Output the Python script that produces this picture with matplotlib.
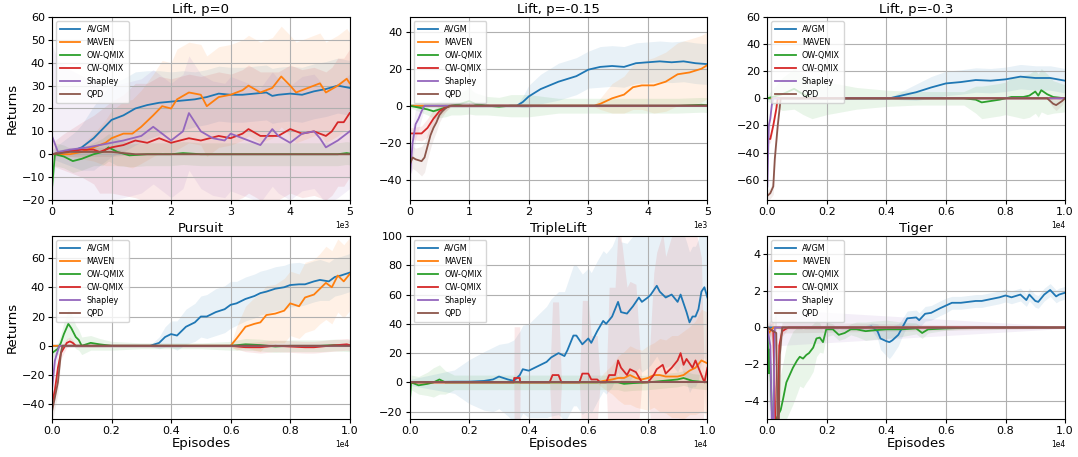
import matplotlib
matplotlib.use("Agg")
import matplotlib.pyplot as plt
import numpy as np

labels = ["AVGM", "MAVEN", "OW-QMIX", "CW-QMIX", "Shapley", "QPD"]
colors = ["#1f77b4", "#ff7f0e", "#2ca02c", "#d62728", "#9467bd", "#8c564b"]
titles = ["Lift, p=0", "Lift, p=-0.15", "Lift, p=-0.3", "Pursuit", "TripleLift", "Tiger"]
xmax = [5000, 5000, 10000, 10000, 10000, 10000]
ylims = [(-20, 60), (-51, 48), (-75, 60), (-50, 75), (-25, 100), (-5, 5)]
yticks = [[-20, -10, 0, 10, 20, 30, 40, 50, 60], [-40, -20, 0, 20, 40],
          [-60, -40, -20, 0, 20, 40, 60], [-40, -20, 0, 20, 40, 60],
          [-20, 0, 20, 40, 60, 80, 100], [-4, -2, 0, 2, 4]]

# ---------------- Lift, p=0 ----------------
l0_avgm_x = [0, 200, 400, 500, 600, 700, 850, 1000, 1200, 1400, 1600, 1800, 2000, 2200, 2400, 2600, 2800, 3000, 3200, 3400, 3600, 3700, 3800, 4000, 4200, 4400, 4600, 4800, 4900, 5000]
l0_avgm_y = [0, 1, 2, 3, 5, 7, 11, 15, 17, 20, 21.5, 22.5, 23, 23.5, 24, 25, 26.5, 26, 26, 26.5, 27, 25.5, 26, 26.5, 26, 27.5, 28.5, 30, 29.5, 29]
l0_avgm_s = [2, 5, 8, 10, 12, 14, 15, 16, 16, 16, 15, 14, 13, 13, 12, 12, 12, 12, 12, 12, 12, 12, 12, 12, 12, 12, 12, 12, 12, 12]
l0_maven_x = [0, 300, 500, 700, 900, 1000, 1200, 1350, 1500, 1700, 1850, 2000, 2100, 2300, 2500, 2600, 2800, 3000, 3200, 3300, 3500, 3700, 3850, 4000, 4100, 4300, 4500, 4600, 4800, 4950, 5000]
l0_maven_y = [0, 0, 1, 3, 5, 7, 9, 9, 12, 17, 21, 20, 24, 27, 26, 21, 25, 26, 28, 30, 27, 29, 34, 30, 27, 29, 31, 27, 30, 33, 31]
l0_maven_s = [0, 1, 3, 6, 10, 12, 14, 15, 16, 18, 20, 20, 22, 22, 22, 22, 22, 22, 22, 22, 22, 22, 22, 22, 22, 22, 22, 22, 22, 22, 22]
l0_ow_x = [0, 50, 200, 350, 500, 700, 850, 950, 1100, 1300, 1600, 2000, 2200, 2500, 3000, 3500, 4000, 4500, 4800, 4950, 5000]
l0_ow_y = [-15, 0, -1, -3, -2, 0, 1, 3, 1, -0.5, 0, 0, 0.5, 0, 0, 0, 0, 0, 0, 0.5, 0.3]
l0_ow_s = [5, 5, 5, 5, 5, 5, 6, 6, 6, 5, 5, 5, 5, 5, 5, 5, 5, 5, 5, 5, 5]
l0_cw_x = [0, 200, 500, 700, 800, 1000, 1200, 1400, 1600, 1800, 2000, 2300, 2500, 2800, 3000, 3200, 3300, 3500, 3800, 4000, 4200, 4400, 4600, 4700, 4800, 4900, 5000]
l0_cw_y = [0, 1, 2, 2, 1, 3, 4, 6, 5, 7, 5, 7, 6, 8, 7, 9, 11, 8, 8, 11, 9, 10, 8, 10, 14, 14, 18]
l0_cw_s = [5, 8, 12, 15, 18, 20, 22, 25, 26, 27, 28, 28, 28, 28, 28, 28, 28, 28, 28, 28, 28, 28, 28, 28, 28, 28, 28]
l0_sh_x = [0, 100, 300, 600, 800, 1000, 1200, 1500, 1700, 1900, 2000, 2200, 2300, 2500, 2700, 2900, 3000, 3300, 3500, 3700, 3800, 4000, 4200, 4400, 4500, 4600, 4800, 5000]
l0_sh_y = [8, 1, 2, 3, 4, 5, 6, 8, 12, 8, 6, 10, 18, 10, 7, 6, 9, 6, 4, 11, 8, 5, 9, 10, 7, 3, 6, 10]
l0_sh_s = [40, 40, 35, 30, 28, 25, 25, 25, 25, 25, 25, 25, 25, 25, 25, 25, 25, 25, 25, 25, 25, 25, 25, 25, 25, 25, 25, 25]
l0_qpd_x = [0, 300, 500, 800, 1000, 1200, 1400, 5000]
l0_qpd_y = [0, 1, 1, 1, 1, 0.5, 0, 0]
l0_qpd_s = [1, 2, 2, 2, 2, 1, 0.5, 0.5]

# ---------------- Lift, p=-0.15 ----------------
l15_avgm_x = [0, 1800, 1900, 2000, 2200, 2500, 2800, 3000, 3200, 3400, 3600, 3800, 4000, 4200, 4400, 4600, 4800, 5000]
l15_avgm_y = [0, 0, 2, 5, 9, 13, 16, 19.5, 21, 21.5, 21, 23, 23.5, 24, 23.5, 24, 23, 22.5]
l15_avgm_s = [0.5, 0.5, 3, 6, 8, 10, 10, 10, 11, 11, 11, 11, 11, 11, 11, 11, 11, 11]
l15_maven_x = [0, 3100, 3200, 3400, 3600, 3750, 3900, 4100, 4300, 4500, 4700, 4900, 5000]
l15_maven_y = [0, 0, 1, 4, 6, 10, 11, 11, 13, 17, 18, 20, 22]
l15_maven_s = [0.3, 0.5, 3, 8, 10, 12, 13, 15, 16, 17, 18, 18, 18]
l15_ow_x = [0, 300, 400, 600, 700, 850, 1000, 1100, 1300, 1500, 1700, 2000, 2500, 3000, 3500, 4000, 4500, 4900, 5000]
l15_ow_y = [0, -2, -3, -1, 0, 1, 2.5, 1, 0, -0.5, 0, 0, 0, 0, 0, 0, 0, 0.5, 0.3]
l15_ow_s = [1, 3, 4, 5, 5, 6, 7, 6, 5, 5, 6, 6, 4, 4, 4, 4, 4, 4, 4]
l15_cw_x = [0, 200, 300, 400, 500, 600, 700, 5000]
l15_cw_y = [-15, -15, -12, -7, -3, -1, 0, 0]
l15_cw_s = [3, 4, 5, 5, 3, 2, 0.5, 0.3]
l15_sh_x = [0, 50, 100, 150, 200, 250, 5000]
l15_sh_y = [-40, -20, -10, -7, -3, 0, 0]
l15_sh_s = [10, 10, 8, 6, 4, 1, 0.3]
l15_qpd_x = [0, 50, 100, 200, 250, 300, 350, 400, 450, 500, 550, 600, 670, 5000]
l15_qpd_y = [-32, -28, -29, -30, -28, -22, -16, -12, -9, -5, -3, -1.5, 0, 0]
l15_qpd_s = [6, 6, 6, 8, 8, 7, 7, 6, 5, 4, 3, 2, 1, 0.3]

# ---------------- Lift, p=-0.3 ----------------
l30_avgm_x = [0, 4100, 4500, 5000, 5500, 6000, 6500, 7000, 7500, 8000, 8500, 9000, 9500, 10000]
l30_avgm_y = [0, 0, 2, 4.5, 8, 11, 12, 13.5, 13, 14, 16, 15, 15, 13]
l30_avgm_s = [0.5, 0.5, 3, 6, 8, 9, 9, 9, 9, 9, 9, 9, 9, 9]
l30_maven_x = [0, 10000]
l30_maven_y = [0, 0]
l30_maven_s = [0.2, 0.2]
l30_ow_x = [0, 500, 900, 1200, 1500, 2000, 3000, 4000, 5000, 6000, 6600, 7000, 7200, 7500, 7800, 8000, 8200, 8600, 8800, 9000, 9100, 9200, 9400, 9600, 10000]
l30_ow_y = [0, 3, 7, 3, 0, 0, 0, 0, 0, 0, 0, -1, -3, -2, -1, 0, 1, 1, 2, 5, 2, 6, 3, 1, 0]
l30_ow_s = [2, 12, 15, 15, 15, 12, 8, 6, 5, 5, 5, 10, 12, 12, 12, 12, 14, 16, 16, 16, 16, 16, 15, 12, 10]
l30_cw_x = [0, 100, 200, 300, 350, 10000]
l30_cw_y = [-30, -30, -20, -8, 0, 0]
l30_cw_s = [3, 3, 3, 2, 0.5, 0.3]
l30_sh_x = [0, 50, 100, 150, 200, 10000]
l30_sh_y = [-65, -20, -15, -5, 0, 0]
l30_sh_s = [8, 6, 4, 2, 0.5, 0.3]
l30_qpd_x = [0, 100, 200, 250, 350, 450, 9400, 9600, 9700, 9900, 10000]
l30_qpd_y = [-72, -70, -65, -45, -20, 0, 0, -4, -5, -2, 0]
l30_qpd_s = [4, 4, 6, 8, 6, 1, 0.5, 3, 4, 3, 1]

# ---------------- Pursuit ----------------
pu_avgm_x = [0, 3300, 3600, 3800, 4000, 4200, 4500, 4800, 5000, 5200, 5500, 5800, 6000, 6200, 6500, 6800, 7000, 7200, 7500, 7800, 8000, 8300, 8500, 8800, 9000, 9300, 9500, 9700, 10000]
pu_avgm_y = [0, 0, 2, 6, 8, 7, 13, 16, 20, 20, 23, 25, 28, 29, 32, 34, 36, 37, 39, 40, 41.5, 42, 42, 44, 45, 44, 47, 48, 50]
pu_avgm_s = [0.5, 0.5, 4, 7, 9, 10, 12, 13, 14, 15, 16, 16, 16, 15, 15, 15, 15, 15, 15, 15, 15, 15, 14, 14, 14, 13, 13, 13, 13]
pu_maven_x = [0, 6000, 6200, 6500, 6800, 7000, 7200, 7500, 7800, 8000, 8300, 8500, 8800, 9000, 9200, 9400, 9600, 9800, 10000]
pu_maven_y = [0, 0, 5, 13, 15, 16, 21, 22, 24, 29, 27, 33, 35, 39, 43, 40, 48, 44, 49]
pu_maven_s = [0.5, 0.5, 8, 14, 18, 20, 20, 20, 22, 22, 22, 24, 24, 24, 25, 25, 25, 25, 25]
pu_ow_x = [0, 200, 300, 400, 550, 650, 800, 900, 1000, 1300, 1600, 2000, 3000, 4000, 5000, 6000, 6500, 7000, 7500, 8000, 9000, 9500, 10000]
pu_ow_y = [-5, -2, 2, 8, 15, 12, 6, 4, 0, 2, 1, 0, 0, 0, 0, 0, 1, 0.5, -0.5, 0, 0, 0.5, 0]
pu_ow_s = [3, 4, 6, 8, 10, 10, 8, 7, 6, 5, 4, 3, 2, 2, 2, 3, 4, 4, 4, 4, 4, 4, 4]
pu_cw_x = [0, 100, 200, 300, 500, 600, 700, 800, 6000, 6500, 7000, 7500, 8500, 8800, 9300, 9900, 10000]
pu_cw_y = [-40, -30, -15, -5, 2, 3, 2, 0, 0, -1, -1, 0, -1, -1, 0, 1, 0.5]
pu_cw_s = [5, 6, 6, 4, 3, 3, 2, 1, 1, 3, 4, 4, 4, 4, 4, 4, 4]
pu_sh_x = [0, 100, 200, 250, 10000]
pu_sh_y = [-30, -10, -3, 0, 0]
pu_sh_s = [15, 8, 4, 1, 0.3]
pu_qpd_x = [0, 100, 200, 300, 350, 10000]
pu_qpd_y = [-45, -35, -25, -5, 0, 0]
pu_qpd_s = [8, 8, 8, 4, 1, 0.3]

# ---------------- TripleLift ----------------
tl_avgm_x = [0, 1500, 2000, 2500, 2800, 3000, 3300, 3500, 3700, 3800, 4000, 4200, 4400, 4600, 4750, 5000, 5200, 5300, 5500, 5600, 5800, 6000, 6100, 6300, 6500, 6600, 6800, 7000, 7100, 7300, 7500, 7700, 7800, 8000, 8100, 8300, 8400, 8600, 8800, 9000, 9100, 9300, 9400, 9500, 9600, 9700, 9800, 9900, 10000]
tl_avgm_y = [0, 0.5, 0.5, 1, 2, 4, 2, 1, 5, 9, 8, 10, 12, 14, 17, 20, 18, 22, 32, 32, 26, 30, 27, 35, 42, 40, 45, 55, 48, 47, 52, 58, 55, 58, 60, 66, 62, 58, 60, 55, 60, 48, 41, 45, 45, 50, 62, 65, 58]
tl_avgm_s = [2, 8, 15, 20, 22, 22, 25, 28, 30, 30, 32, 34, 36, 38, 40, 42, 44, 46, 48, 48, 48, 48, 48, 48, 48, 48, 48, 48, 48, 48, 48, 48, 48, 48, 48, 48, 48, 48, 48, 48, 48, 48, 48, 48, 48, 48, 48, 48, 48]
tl_maven_x = [0, 6300, 6500, 6800, 7000, 7200, 7400, 7600, 7800, 8000, 8200, 8400, 8600, 8800, 9000, 9200, 9400, 9600, 9800, 10000]
tl_maven_y = [0, 0, 1, 2, 3, 3, 5, 3, 2, 3, 5, 5, 4, 4, 4, 5, 8, 10, 15, 13]
tl_maven_s = [0.3, 0.5, 5, 10, 15, 18, 20, 20, 20, 22, 22, 25, 25, 28, 28, 30, 30, 32, 35, 35]
tl_ow_x = [0, 50, 300, 600, 800, 1000, 1200, 1500, 3000, 5000, 7000, 7200, 7500, 8000, 8500, 9000, 9200, 9500, 10000]
tl_ow_y = [-15, 0, -2, -1, 0, 2, 0, 0, 0, 0, 0, -1, -0.5, 0, 1, 2, 3, 1, 0]
tl_ow_s = [3, 5, 6, 8, 10, 10, 8, 5, 5, 5, 5, 5, 5, 5, 5, 5, 5, 5, 5]
tl_cw_x = [0, 3500, 3510, 3600, 3700, 3710, 4700, 4800, 5000, 5100, 5700, 5800, 6000, 6100, 6300, 6400, 6600, 6700, 6900, 7000, 7100, 7300, 7400, 7600, 7800, 8000, 8200, 8300, 8500, 8600, 8800, 9000, 9100, 9200, 9300, 9500, 9600, 9800, 9900, 10000]
tl_cw_y = [0, 0, 3, 3, 3, 0, 0, 5, 5, 0, 0, 6, 6, 2, 2, 0, 0, 5, 5, 15, 10, 5, 9, 7, 0, 0, 5, 9, 12, 6, 10, 15, 20, 12, 16, 10, 15, 5, 0, 10]
tl_cw_s = [0, 0, 35, 35, 35, 0, 0, 50, 50, 0, 0, 50, 50, 30, 30, 0, 0, 60, 60, 90, 90, 60, 60, 60, 0, 0, 70, 80, 90, 80, 90, 95, 95, 90, 90, 90, 90, 80, 0, 80]
tl_sh_x = [0, 10000]
tl_sh_y = [0, 0]
tl_sh_s = [0.2, 0.2]
tl_qpd_x = [0, 10000]
tl_qpd_y = [0, 0]
tl_qpd_s = [0.2, 0.2]

# ---------------- Tiger ----------------
ti_avgm_x = [0, 3300, 3500, 3700, 3800, 4000, 4100, 4200, 4400, 4500, 4600, 4700, 5000, 5100, 5300, 5500, 5800, 6000, 6200, 6500, 7000, 7200, 7500, 7800, 8000, 8200, 8500, 8700, 8800, 9000, 9100, 9300, 9500, 9700, 9800, 10000]
ti_avgm_y = [0, 0, 0.05, -0.2, -0.6, -0.75, -0.8, -0.7, -0.4, -0.1, 0.2, 0.5, 0.55, 0.4, 0.75, 0.8, 1.05, 1.2, 1.35, 1.35, 1.45, 1.45, 1.55, 1.65, 1.75, 1.65, 1.8, 1.5, 1.8, 1.45, 1.4, 1.8, 2.05, 1.7, 1.8, 1.9]
ti_avgm_s = [0.05, 0.1, 0.2, 0.4, 0.6, 0.8, 0.9, 0.8, 0.6, 0.5, 0.45, 0.4, 0.4, 0.4, 0.4, 0.4, 0.4, 0.4, 0.35, 0.35, 0.35, 0.35, 0.35, 0.35, 0.35, 0.35, 0.35, 0.35, 0.35, 0.35, 0.35, 0.35, 0.35, 0.35, 0.35, 0.35]
ti_maven_x = [0, 50, 200, 10000]
ti_maven_y = [0, -0.3, 0, 0]
ti_maven_s = [0.2, 0.3, 0.1, 0.05]
ti_ow_x = [0, 50, 80, 120, 150, 200, 300, 450, 530, 640, 750, 860, 1000, 1090, 1200, 1310, 1400, 1540, 1650, 1760, 1870, 1980, 2200, 2400, 2600, 2800, 3000, 3300, 3600, 4000, 4500, 5000, 5200, 5400, 6000, 7000, 10000]
ti_ow_y = [0, -2.5, -1.2, -3, -4.5, -5.5, -5, -4.5, -3.9, -3, -2.6, -2.2, -1.8, -1.6, -1.7, -1.5, -1.4, -1.1, -0.6, -0.55, -0.8, -0.1, -0.1, -0.4, -0.3, -0.1, -0.1, -0.2, -0.15, -0.1, -0.1, -0.05, -0.3, -0.1, -0.05, 0, 0]
ti_ow_s = [0.5, 2, 2, 2, 2, 2, 2, 2, 2, 2, 2, 2, 1.8, 1.6, 1.6, 1.5, 1.4, 1.3, 1.0, 0.8, 0.6, 0.4, 0.3, 0.3, 0.3, 0.3, 0.4, 0.5, 0.5, 0.5, 0.4, 0.3, 0.3, 0.2, 0.1, 0.05, 0.05]
ti_cw_x = [0, 200, 280, 350, 400, 500, 700, 10000]
ti_cw_y = [0, -0.2, -6, -6, -1, -0.2, 0, 0]
ti_cw_s = [0.1, 0.5, 2, 2, 1, 0.3, 0.05, 0.05]
ti_sh_x = [0, 100, 150, 200, 250, 10000]
ti_sh_y = [0, -1, -5, -6, 0, 0]
ti_sh_s = [3, 5, 5, 5, 1, 0.05]
ti_qpd_x = [0, 300, 350, 380, 420, 500, 10000]
ti_qpd_y = [0, -0.3, -6, -6, -1.5, 0, 0]
ti_qpd_s = [0.2, 1, 2, 2, 1, 0.3, 0.05]

panels = [
    [(l0_avgm_x, l0_avgm_y, l0_avgm_s), (l0_maven_x, l0_maven_y, l0_maven_s), (l0_ow_x, l0_ow_y, l0_ow_s),
     (l0_cw_x, l0_cw_y, l0_cw_s), (l0_sh_x, l0_sh_y, l0_sh_s), (l0_qpd_x, l0_qpd_y, l0_qpd_s)],
    [(l15_avgm_x, l15_avgm_y, l15_avgm_s), (l15_maven_x, l15_maven_y, l15_maven_s), (l15_ow_x, l15_ow_y, l15_ow_s),
     (l15_cw_x, l15_cw_y, l15_cw_s), (l15_sh_x, l15_sh_y, l15_sh_s), (l15_qpd_x, l15_qpd_y, l15_qpd_s)],
    [(l30_avgm_x, l30_avgm_y, l30_avgm_s), (l30_maven_x, l30_maven_y, l30_maven_s), (l30_ow_x, l30_ow_y, l30_ow_s),
     (l30_cw_x, l30_cw_y, l30_cw_s), (l30_sh_x, l30_sh_y, l30_sh_s), (l30_qpd_x, l30_qpd_y, l30_qpd_s)],
    [(pu_avgm_x, pu_avgm_y, pu_avgm_s), (pu_maven_x, pu_maven_y, pu_maven_s), (pu_ow_x, pu_ow_y, pu_ow_s),
     (pu_cw_x, pu_cw_y, pu_cw_s), (pu_sh_x, pu_sh_y, pu_sh_s), (pu_qpd_x, pu_qpd_y, pu_qpd_s)],
    [(tl_avgm_x, tl_avgm_y, tl_avgm_s), (tl_maven_x, tl_maven_y, tl_maven_s), (tl_ow_x, tl_ow_y, tl_ow_s),
     (tl_cw_x, tl_cw_y, tl_cw_s), (tl_sh_x, tl_sh_y, tl_sh_s), (tl_qpd_x, tl_qpd_y, tl_qpd_s)],
    [(ti_avgm_x, ti_avgm_y, ti_avgm_s), (ti_maven_x, ti_maven_y, ti_maven_s), (ti_ow_x, ti_ow_y, ti_ow_s),
     (ti_cw_x, ti_cw_y, ti_cw_s), (ti_sh_x, ti_sh_y, ti_sh_s), (ti_qpd_x, ti_qpd_y, ti_qpd_s)],
]

fig, axes = plt.subplots(2, 3, figsize=(10.78, 4.57), dpi=100)
fig.subplots_adjust(left=0.0482, right=0.988, bottom=0.0832, top=0.9628, wspace=0.2013, hspace=0.197)

for i, ax in enumerate(axes.flat):
    for j, (x, y, s) in enumerate(panels[i]):
        x = np.asarray(x, float)
        y = np.asarray(y, float)
        s = np.asarray(s, float)
        ax.fill_between(x, y - s, y + s, color=colors[j], alpha=0.1, linewidth=0)
        ax.plot(x, y, color=colors[j], lw=1.3, label=labels[j])
    ax.set_xlim(0, xmax[i])
    ax.set_ylim(*ylims[i])
    ax.set_yticks(yticks[i])
    ax.grid(True, color="#b0b0b0", lw=0.8)
    ax.set_title(titles[i], fontsize=9.5, pad=3)
    ax.ticklabel_format(style="sci", axis="x", scilimits=(0, 0))
    ax.xaxis.get_offset_text().set_fontsize(5.5)
    ax.tick_params(labelsize=8, length=3, pad=2)
    leg = ax.legend(loc="upper left", fontsize=5.8, handlelength=2.5, labelspacing=0.5,
                    borderpad=0.5, framealpha=0.8, bbox_to_anchor=(0.0, 1.0))
    for lh in leg.get_lines():
        lh.set_linewidth(1.3)
    if i % 3 == 0:
        ax.set_ylabel("Returns", fontsize=9.5, labelpad=2)
    if i >= 3:
        ax.set_xlabel("Episodes", fontsize=9.5, labelpad=1)

fig.savefig("out.png", dpi=100)
